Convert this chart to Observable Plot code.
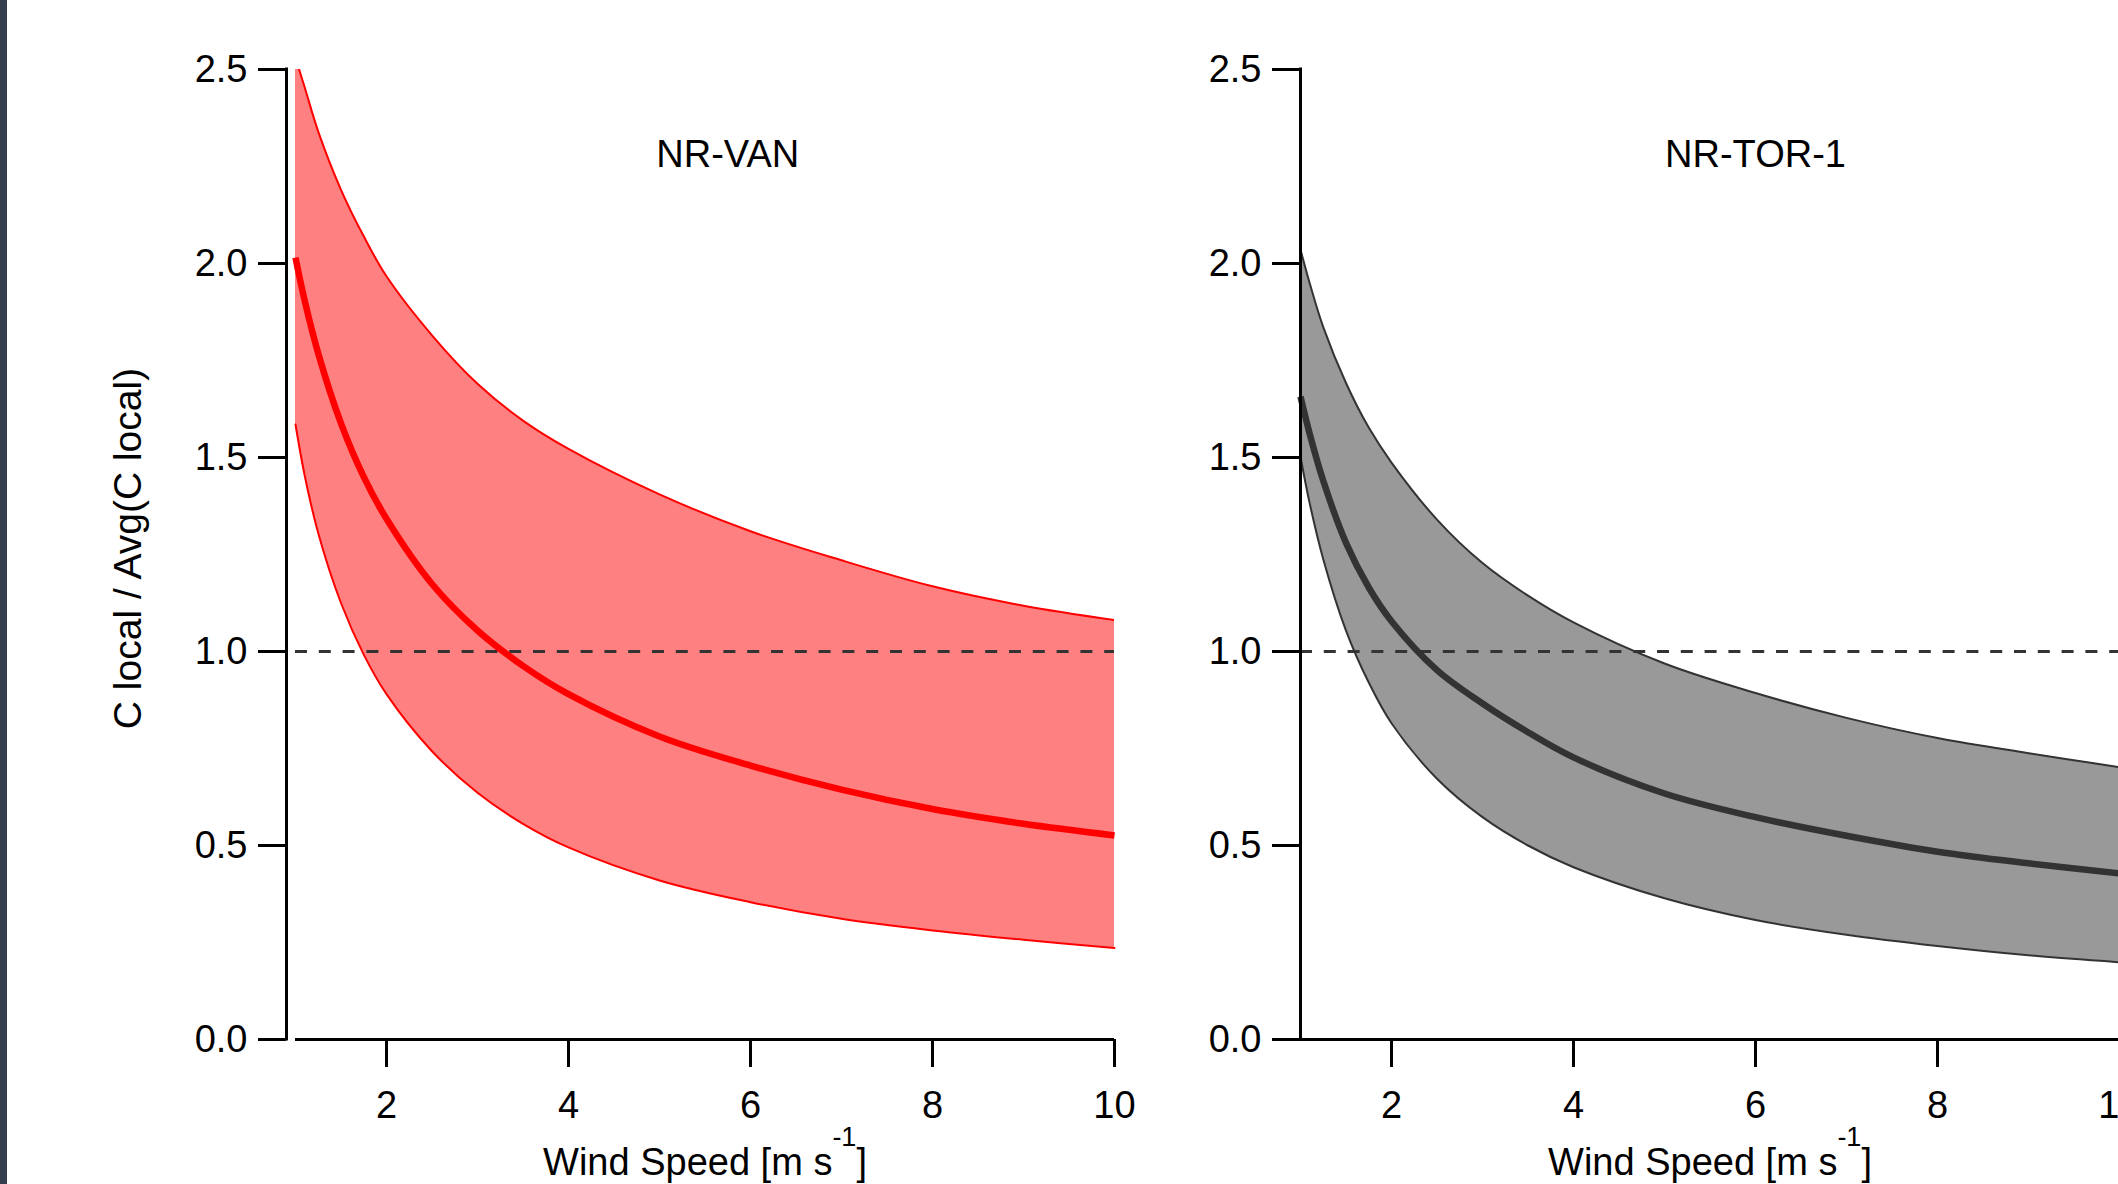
<!DOCTYPE html>
<html>
<head>
<meta charset="utf-8">
<script src="https://cdn.jsdelivr.net/npm/d3@7"></script>
<script src="https://cdn.jsdelivr.net/npm/@observablehq/plot@0.6"></script>
<style>
  html, body { margin: 0; padding: 0; background: #fff; overflow: hidden; }
  #chart { position: relative; width: 2118px; height: 1184px; overflow: hidden; background: #fff; }
  #strip { position: absolute; left: 0; top: 0; width: 7px; height: 1184px; background: #343e4f; z-index: 5; }
  #chart svg { position: absolute; top: 0; }
</style>
</head>
<body>
<div id="chart"><div id="strip"></div></div>
<script>
// ---- data ----
const windSpeed = [1, 1.1, 1.25, 1.5, 1.75, 2, 2.5, 3, 3.5, 4, 5, 6, 7, 8, 9, 10];

const vanMean  = [2.015, 1.905, 1.768, 1.588, 1.45, 1.342, 1.174, 1.054, 0.963, 0.89, 0.781, 0.706, 0.644, 0.594, 0.556, 0.526];
const vanUpper = [2.53, 2.455, 2.34, 2.19, 2.07, 1.967, 1.815, 1.69, 1.595, 1.522, 1.405, 1.31, 1.235, 1.168, 1.118, 1.081];
const vanLower = [1.585, 1.455, 1.305, 1.125, 0.992, 0.89, 0.743, 0.636, 0.556, 0.495, 0.41, 0.354, 0.311, 0.281, 0.257, 0.236];

const torMean  = [1.657, 1.562, 1.44, 1.28, 1.165, 1.078, 0.952, 0.866, 0.792, 0.727, 0.634, 0.573, 0.525, 0.484, 0.454, 0.428];
const torUpper = [2.036, 1.95, 1.836, 1.692, 1.577, 1.487, 1.34, 1.228, 1.144, 1.075, 0.969, 0.893, 0.829, 0.777, 0.738, 0.702];
const torLower = [1.502, 1.383, 1.238, 1.054, 0.92, 0.815, 0.672, 0.573, 0.5, 0.444, 0.364, 0.308, 0.27, 0.241, 0.217, 0.199];

const panelNames = ["NR-VAN", "NR-TOR-1"];
const xTicks = [2, 4, 6, 8, 10];
const yTicks = [0, 0.5, 1.0, 1.5, 2.0, 2.5];
const xDomain = [1, 10];
const yDomain = [0, 2.5];
const referenceLevel = 1;
const xLabel = "Wind Speed [m s-1]";
const yLabel = "C local / Avg(C local)";

// ---- styles / layout ----
const panels = [
  {name: panelNames[0], mean: vanMean, upper: vanUpper, lower: vanLower,
   fill: "#ff8080", stroke: "#ff0000", axisOffset: -9, left: 0, width: 1164, yLabel: true, titleX: 5.75},
  {name: panelNames[1], mean: torMean, upper: torUpper, lower: torLower,
   fill: "#999999", stroke: "#333333", axisOffset: 0, left: 1005, width: 1180, yLabel: false, titleX: 6.0}
];
const titleY = 2.28;
const curve = "catmull-rom";

function makePanel(p) {
  const rows = windSpeed.map((x, k) => ({x, mean: p.mean[k], upper: p.upper[k], lower: p.lower[k]}));
  const marks = [
    Plot.areaY(rows, {x: "x", y1: "lower", y2: "upper", fill: p.fill, curve, clip: true}),
    Plot.line(rows, {x: "x", y: "upper", stroke: p.stroke, strokeWidth: 2, curve, clip: true}),
    Plot.line(rows, {x: "x", y: "lower", stroke: p.stroke, strokeWidth: 2, curve}),
    Plot.ruleY([referenceLevel], {x1: xDomain[0], x2: xDomain[1], stroke: "#333", strokeWidth: 3, strokeDasharray: "12,11.8"}),
    Plot.line(rows, {x: "x", y: "mean", stroke: p.stroke, strokeWidth: 6.5, curve, strokeLinecap: "butt"}),
    // axis lines
    Plot.ruleX([xDomain[0]], {y1: yDomain[0], y2: yDomain[1], dx: p.axisOffset, stroke: "#000", strokeWidth: 3, strokeLinecap: "square"}),
    Plot.ruleY([yDomain[0]], {x1: xDomain[0], x2: xDomain[1], stroke: "#000", strokeWidth: 3}),
    Plot.axisY({ticks: yTicks, tickSize: 28, tickPadding: 11, tickFormat: d => d.toFixed(1), stroke: "#000", strokeWidth: 3, dx: p.axisOffset, label: null, fill: "#000"}),
    Plot.axisX({ticks: xTicks, tickSize: 28, tickPadding: 24, tickFormat: d => String(d), stroke: "#000", strokeWidth: 3, label: null, fill: "#000"}),
    Plot.text([p.name], {x: p.titleX, y: titleY, text: d => d, fill: "#000"}),
    Plot.text([xLabel], {frameAnchor: "bottom", dy: 135, text: d => d, fill: "#000"})
  ];
  if (p.yLabel) {
    marks.push(Plot.text([yLabel], {frameAnchor: "left", textAnchor: "middle", dx: -167, dy: -6, rotate: -90, text: d => d, fill: "#000", fontSize: 39}));
  }
  const svg = Plot.plot({
    width: p.width,
    height: 1184,
    marginLeft: 295,
    marginRight: p.width - 1114,
    marginTop: 69,
    marginBottom: 145,
    x: {domain: xDomain},
    y: {domain: yDomain},
    style: {background: "transparent", fontFamily: "'Liberation Sans', Arial, sans-serif", fontSize: "38px", color: "#000", maxWidth: "none", overflow: "visible"},
    marks
  });
  svg.style.left = p.left + "px";
  // superscript for the unit
  d3.select(svg).selectAll("text").filter(function() { return this.textContent === xLabel; }).each(function() {
    const t = d3.select(this);
    t.text(null);
    t.append("tspan").text("Wind Speed [m s");
    t.append("tspan").attr("dy", "-29px").attr("font-size", "27px").text("-1");
    t.append("tspan").attr("dy", "29px").text("]");
  });
  return svg;
}

const chart = document.getElementById("chart");
panels.forEach(p => chart.appendChild(makePanel(p)));
</script>
</body>
</html>
